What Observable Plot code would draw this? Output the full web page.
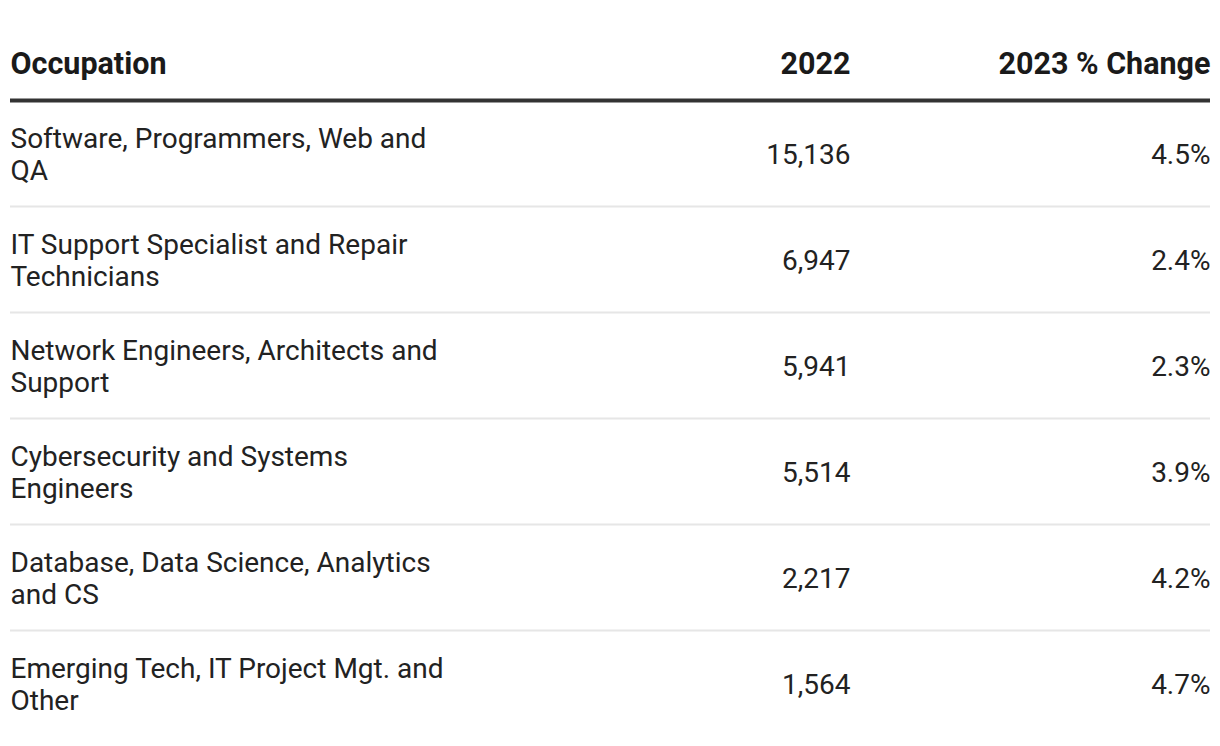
<!DOCTYPE html>
<html>
<head>
<meta charset="utf-8">
<script src="https://cdn.jsdelivr.net/npm/d3@7"></script>
<script src="https://cdn.jsdelivr.net/npm/@observablehq/plot@0.6"></script>
<style>
  html, body { margin: 0; padding: 0; background: #fff; }
  #chart svg { display: block; }
</style>
</head>
<body>
<div id="chart"></div>
<script>
// Column headers
const columns = ["Occupation", "2022", "2023 % Change"];
// Row categories (line breaks as shown in the table)
const occupations = [
  "Software, Programmers, Web and\nQA",
  "IT Support Specialist and Repair\nTechnicians",
  "Network Engineers, Architects and\nSupport",
  "Cybersecurity and Systems\nEngineers",
  "Database, Data Science, Analytics\nand CS",
  "Emerging Tech, IT Project Mgt. and\nOther"
];
// 2022 employment values
const jobs2022 = [15136, 6947, 5941, 5514, 2217, 1564];
// 2023 % change values
const change2023 = [4.5, 2.4, 2.3, 3.9, 4.2, 4.7];

// column anchor positions as fractions of the table width (layout)
const colAnchor = {"Occupation": 0, "2022": 0.7, "2023 % Change": 1};

const rows = occupations.map((o, i) => ({
  idx: i,
  occupation: o,
  jobs: jobs2022[i],
  change: change2023[i]
}));
const headers = columns.map((c, i) => ({col: c, anchor: i === 0 ? "start" : "end"}));

const fmtJobs = d3.format(",");
const fmtPct = d => d3.format(".1f")(d) + "%";

const textColor = "#222";
const fs = 28;
const hfs = 30.5;

const chart = Plot.plot({
  width: 1220,
  height: 746,
  marginLeft: 10,
  marginRight: 10,
  marginTop: 0,
  marginBottom: 0,
  style: {fontFamily: "Roboto, sans-serif", background: "#fff"},
  x: {type: "linear", domain: [0, 1], axis: null},
  y: {type: "linear", domain: [-0.5, 5.5], range: [100, 736], axis: null},
  marks: [
    // thin row separators
    Plot.ruleY(rows.slice(0, -1), {y: d => d.idx + 0.5, stroke: "#e6e6e6", strokeWidth: 2}),
    // thick header rule
    Plot.ruleY([-0.5], {stroke: "#333", strokeWidth: 4}),
    // headers
    Plot.text(headers.filter(h => h.anchor === "start"), {
      x: d => colAnchor[d.col], y: () => -0.5, text: "col", textAnchor: "start",
      fontSize: hfs, fontWeight: "bold", fill: "#1a1a1a", dy: -36
    }),
    Plot.text(headers.filter(h => h.anchor === "end"), {
      x: d => colAnchor[d.col], y: () => -0.5, text: "col", textAnchor: "end",
      fontSize: hfs, fontWeight: "bold", fill: "#1a1a1a", dy: -36
    }),
    // occupation names
    Plot.text(rows, {
      x: () => colAnchor["Occupation"], y: "idx", text: "occupation", textAnchor: "start",
      fontSize: fs, lineHeight: 32 / fs, fill: textColor, dy: 0
    }),
    // 2022 values
    Plot.text(rows, {
      x: () => colAnchor["2022"], y: "idx", text: d => fmtJobs(d.jobs), textAnchor: "end",
      fontSize: fs, fill: textColor, dy: 2
    }),
    // 2023 % change
    Plot.text(rows, {
      x: () => colAnchor["2023 % Change"], y: "idx", text: d => fmtPct(d.change), textAnchor: "end",
      fontSize: fs, fill: textColor, dy: 2
    })
  ]
});
document.getElementById("chart").appendChild(chart);
</script>
</body>
</html>
